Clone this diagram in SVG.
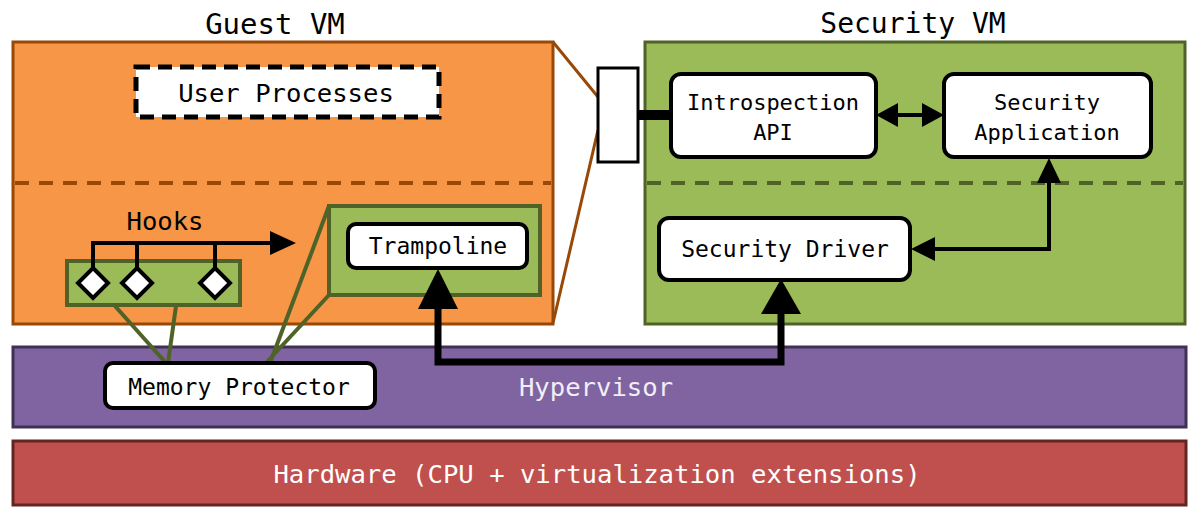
<svg xmlns="http://www.w3.org/2000/svg" width="1201" height="522" viewBox="0 0 1201 522">
<style>
text{font-family:"DejaVu Sans Mono","Liberation Mono",monospace;text-anchor:middle;fill:#000}
.title{font-size:29px}
.lbl{font-size:22px}
.lbl2{font-size:23px}
.big{font-size:25.6px}
.wbox{fill:#fff;stroke:#000;stroke-width:4}
.conn{fill:none;stroke:#000;stroke-linejoin:miter}
.head{fill:#000;stroke:none}
</style>
<rect width="1201" height="522" fill="#fff"/>
<g id="guest-vm">
<rect x="13" y="42" width="540" height="282" fill="#F79646" stroke="#984807" stroke-width="3"/>
<line x1="15" y1="183" x2="551" y2="183" stroke="#984807" stroke-width="4" stroke-dasharray="14 10"/>
<text class="title" x="275" y="34">Guest VM</text>
</g>
<g id="security-vm">
<rect x="645" y="42" width="540" height="282" fill="#9BBB59" stroke="#4F6228" stroke-width="3"/>
<line x1="647" y1="183" x2="1183" y2="183" stroke="#4F6228" stroke-width="4" stroke-dasharray="14 10"/>
<text class="title" x="913" y="33" style="font-size:28px">Security VM</text>
</g>
<g id="callout">
<line x1="553" y1="42" x2="598" y2="97" stroke="#984807" stroke-width="3"/>
<line x1="553" y1="323" x2="598" y2="130" stroke="#984807" stroke-width="3"/>
</g>
<g id="user-processes">
<rect x="136" y="67" width="303" height="50" fill="#fff" stroke="#000" stroke-width="5" stroke-dasharray="14 8"/>
<text class="big" x="286" y="102">User Processes</text>
</g>
<g id="hooks">
<rect x="67" y="261" width="173" height="44" fill="#9BBB59" stroke="#4F6228" stroke-width="4"/>
<text class="big" x="165" y="230">Hooks</text>
<path d="M93 283V243H272M137 243V283M215 243V283" fill="none" stroke="#000" stroke-width="4"/>
<polygon class="head" points="296,243 270,231 270,255"/>
<polygon points="93,268 108,283 93,298 78,283" fill="#fff" stroke="#000" stroke-width="4"/>
<polygon points="137,268 152,283 137,298 122,283" fill="#fff" stroke="#000" stroke-width="4"/>
<polygon points="215,268 230,283 215,298 200,283" fill="#fff" stroke="#000" stroke-width="4"/>
</g>
<g id="trampoline">
<rect x="329" y="206" width="211" height="89" fill="#9BBB59" stroke="#4F6228" stroke-width="4"/>
<rect class="wbox" x="348" y="224" width="179" height="44" rx="8"/>
<text class="lbl2" x="438" y="254">Trampoline</text>
</g>
<g id="hypervisor">
<rect x="13" y="347" width="1173" height="80" fill="#8064A2" stroke="#3F3151" stroke-width="3"/>
<text class="big" x="596" y="396" style="fill:#F2EEF8">Hypervisor</text>
</g>
<g id="hardware">
<rect x="13" y="441" width="1173" height="64" fill="#C0504D" stroke="#632523" stroke-width="3"/>
<text class="big" x="597" y="483" style="fill:#fff">Hardware (CPU + virtualization extensions)</text>
</g>
<g id="memory-protector-links">
<line x1="115" y1="306" x2="166" y2="363" stroke="#4F6228" stroke-width="4"/>
<line x1="176" y1="306" x2="168" y2="363" stroke="#4F6228" stroke-width="4"/>
<line x1="329" y1="206" x2="270" y2="363" stroke="#4F6228" stroke-width="4"/>
<line x1="329" y1="295" x2="266" y2="363" stroke="#4F6228" stroke-width="4"/>
</g>
<g id="memory-protector">
<rect class="wbox" x="105" y="363" width="270" height="45" rx="8"/>
<text class="lbl2" x="239" y="395">Memory Protector</text>
</g>
<g id="api-port">
<rect x="598" y="68" width="40" height="94" fill="#fff" stroke="#000" stroke-width="3"/>
</g>
<g id="introspection-api">
<rect class="wbox" x="671" y="74" width="205" height="83" rx="10"/>
<text class="lbl" x="773" y="110">Introspection</text>
<text class="lbl" x="773" y="140">API</text>
</g>
<g id="security-application">
<rect class="wbox" x="944" y="74" width="207" height="83" rx="10"/>
<text class="lbl" x="1047" y="110">Security</text>
<text class="lbl" x="1047" y="140">Application</text>
</g>
<g id="security-driver">
<rect class="wbox" x="659" y="218" width="251" height="62" rx="10"/>
<text class="lbl2" x="785" y="257">Security Driver</text>
</g>
<g id="connectors">
<rect x="637" y="110" width="35" height="10" fill="#000"/>
<line x1="896" y1="115" x2="924" y2="115" stroke="#000" stroke-width="4"/>
<polygon class="head" points="876,115 898,103 898,127"/>
<polygon class="head" points="944,115 922,103 922,127"/>
<path class="conn" d="M1049 181V249H932" stroke-width="4"/>
<polygon class="head" points="1049,158 1037,183 1061,183"/>
<polygon class="head" points="911,249 935,237 935,261"/>
<path class="conn" d="M438 306V362H781V310" stroke-width="7"/>
<polygon class="head" points="438,269 418,309 458,309"/>
<polygon class="head" points="781,279 761,314 801,314"/>
</g>
</svg>
